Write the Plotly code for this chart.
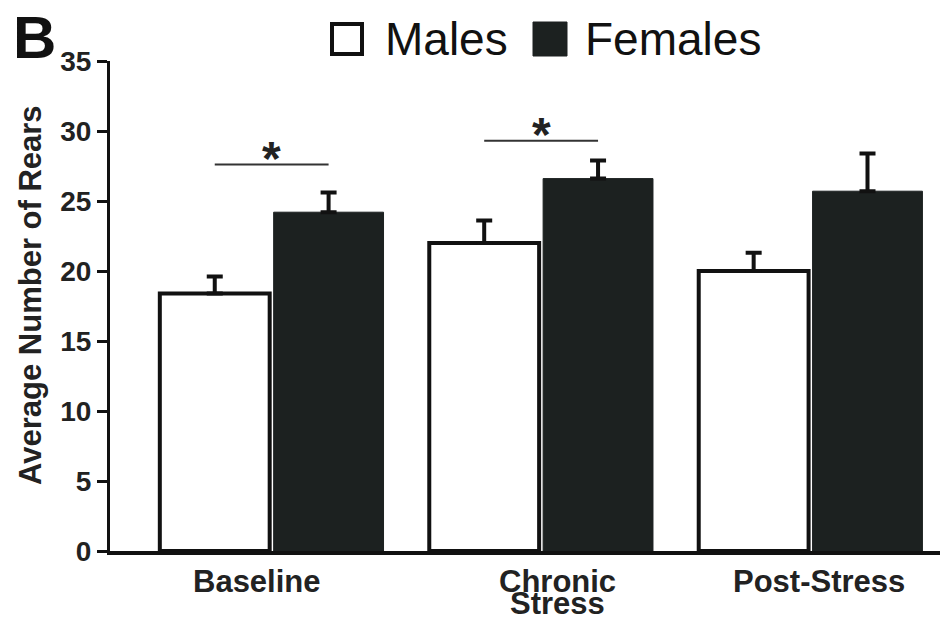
import plotly.graph_objects as go

categories = ["Baseline", "Chronic Stress", "Post-Stress"]
x_labels = ["Baseline", "Chronic<br>Stress", "Post-Stress"]
males = [18.4, 22.0, 20.0]
males_err = [1.2, 1.6, 1.3]
females = [24.2, 26.6, 25.7]
females_err = [1.4, 1.3, 2.7]
sig_categories = ["Baseline", "Chronic Stress"]
sig_y = [27.6, 29.3]
y_ticks = [0, 5, 10, 15, 20, 25, 30, 35]

FONT = "Arial, Liberation Sans, Helvetica, sans-serif"
DARK = "#1c2120"
BARGAP = 0.155
SLOT = (1 - BARGAP) / 2

# page body has an 8px default margin; lay out in screen pixels minus that
OFF = 8
FIG_W, FIG_H = 948 - OFF, 626 - OFF
PLOT_L, PLOT_T, PLOT_B = 110, 61, 551  # screen pixels
W = 948 - PLOT_L
H = PLOT_B - PLOT_T

def px_x(p):
    return (p - PLOT_L) / W
def px_y(p):
    return (PLOT_B - p) / H

fig = go.Figure()
fig.add_trace(go.Bar(
    name="Males", x=categories, y=males,
    marker=dict(color="white", line=dict(color="#111", width=4)),
    error_y=dict(type="data", array=males_err, arrayminus=[0] * len(males),
                 symmetric=False, color="#111", thickness=4, width=8),
    showlegend=False,
))
fig.add_trace(go.Bar(
    name="Females", x=categories, y=females,
    marker=dict(color=DARK, line=dict(color=DARK, width=1)),
    error_y=dict(type="data", array=females_err, arrayminus=[0] * len(females),
                 symmetric=False, color="#111", thickness=4, width=8),
    showlegend=False,
))

# significance lines and stars
for cat, yv in zip(sig_categories, sig_y):
    i = categories.index(cat)
    fig.add_shape(type="line", xref="x", yref="y",
                  x0=i - SLOT / 2, x1=i + SLOT / 2, y0=yv, y1=yv,
                  line=dict(color="#333", width=2))
    fig.add_annotation(x=cat, y=yv, xref="x", yref="y", text="*",
                       showarrow=False, yanchor="bottom", yshift=-22,
                       font=dict(family=FONT, size=48, color="#222", weight="bold"))

# x-axis category labels (tight line spacing)
label_shift = [-15, 16, 8]
for cat, lab, dx in zip(categories, x_labels, label_shift):
    for k, line in enumerate(lab.split("<br>")):
        fig.add_annotation(x=cat, y=0, xref="x", yref="paper", text=line,
                           showarrow=False, yanchor="top", xanchor="center",
                           xshift=dx, yshift=-11 - 22 * k,
                           font=dict(family=FONT, size=31, color="#222", weight="bold"))

# manual legend
fig.add_shape(type="rect", xref="paper", yref="paper",
              x0=px_x(332), x1=px_x(362), y0=px_y(54), y1=px_y(24),
              fillcolor="white", line=dict(color="#111", width=4))
fig.add_shape(type="rect", xref="paper", yref="paper",
              x0=px_x(533), x1=px_x(567), y0=px_y(56), y1=px_y(22),
              fillcolor=DARK, line=dict(color=DARK, width=1))
fig.add_annotation(x=px_x(383), y=px_y(39), xref="paper", yref="paper",
                   text="Males", showarrow=False, xanchor="left", yanchor="middle",
                   font=dict(family=FONT, size=46, color="#111"))
fig.add_annotation(x=px_x(583), y=px_y(39), xref="paper", yref="paper",
                   text="Females", showarrow=False, xanchor="left", yanchor="middle",
                   font=dict(family=FONT, size=46, color="#111"))

# panel letter
fig.add_annotation(x=px_x(11), y=px_y(37), xref="paper", yref="paper",
                   text="B", showarrow=False, xanchor="left", yanchor="middle",
                   font=dict(family=FONT, size=60, color="#111", weight="bold"))

# y-axis title
fig.add_annotation(x=px_x(30), y=px_y(295), xref="paper", yref="paper",
                   text="Average Number of Rears", showarrow=False,
                   textangle=-90, xanchor="center", yanchor="middle",
                   font=dict(family=FONT, size=31, color="#222", weight="bold"))

fig.update_layout(
    width=FIG_W, height=FIG_H,
    margin=dict(l=PLOT_L - OFF, r=0, t=PLOT_T - OFF, b=FIG_H - (PLOT_B - OFF), pad=0),
    paper_bgcolor="white", plot_bgcolor="white",
    barmode="group", bargap=BARGAP, bargroupgap=0.035,
    xaxis=dict(range=[-0.6, 2.51], showline=True, linecolor="#111", linewidth=4,
               showticklabels=False, ticks="", showgrid=False, zeroline=False),
    yaxis=dict(range=[0, 35], tickvals=y_ticks, showline=True, linecolor="#111",
               linewidth=3, ticks="outside", ticklen=10, tickwidth=3, tickcolor="#111",
               showgrid=False, zeroline=False,
               tickfont=dict(family=FONT, size=28, color="#222", weight="bold")),
    showlegend=False,
)

fig.write_html("out.html")
